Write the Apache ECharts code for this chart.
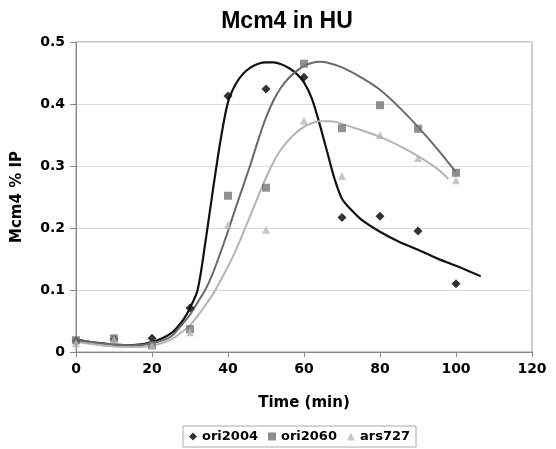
<!DOCTYPE html>
<html>
<head>
<meta charset="utf-8">
<script src="https://cdn.jsdelivr.net/npm/echarts@6/dist/echarts.min.js"></script>
<style>html,body{margin:0;padding:0;background:#fff;}#c{width:556px;height:449px;}</style>
</head>
<body>
<div id="c"></div>
<script>
// Measured points [time, Mcm4 % IP]
const ori2004Points = [[0,0.018],[10,0.021],[20,0.022],[30,0.071],[40,0.413],[50,0.424],[60,0.443],[70,0.217],[80,0.219],[90,0.195],[100,0.11]];
const ori2060Points = [[0,0.019],[10,0.022],[20,0.011],[30,0.037],[40,0.252],[50,0.265],[60,0.465],[70,0.361],[80,0.398],[90,0.360],[100,0.289]];
const ars727Points  = [[0,0.014],[10,0.02],[20,0.01],[30,0.032],[40,0.205],[50,0.197],[60,0.373],[70,0.284],[80,0.35],[90,0.313],[100,0.277]];

// Smoothed trend curves
const ori2004Curve = [[0,0.02],[5,0.015],[10,0.012],[15,0.011],[20,0.016],[25,0.03],[28,0.05],[30,0.071],[32,0.1],[34,0.175],[36,0.26],[38,0.34],[40,0.403],[42,0.432],[44,0.449],[46,0.459],[48,0.465],[50,0.467],[52,0.467],[54,0.464],[56,0.458],[58,0.449],[60,0.435],[62,0.41],[64,0.37],[66,0.325],[68,0.28],[70,0.247],[72,0.232],[75,0.214],[80,0.194],[85,0.178],[90,0.165],[95,0.151],[100,0.139],[106.5,0.122]];
const ori2060Curve = [[0,0.02],[5,0.015],[10,0.012],[15,0.011],[20,0.014],[25,0.025],[28,0.045],[30,0.06],[32,0.08],[34,0.1],[36,0.127],[38,0.16],[40,0.195],[42,0.232],[44,0.268],[46,0.304],[48,0.343],[50,0.378],[52,0.406],[54,0.427],[56,0.442],[58,0.453],[60,0.461],[62,0.466],[64,0.468],[66,0.467],[70,0.459],[75,0.443],[80,0.423],[85,0.395],[90,0.363],[95,0.328],[100,0.29]];
const ars727Curve  = [[0,0.016],[5,0.012],[10,0.009],[15,0.008],[20,0.01],[25,0.02],[28,0.033],[30,0.043],[32,0.058],[34,0.075],[36,0.093],[38,0.115],[40,0.138],[42,0.163],[44,0.192],[46,0.222],[48,0.252],[50,0.281],[52,0.307],[54,0.327],[56,0.342],[58,0.354],[60,0.363],[62,0.369],[64,0.372],[67,0.372],[70,0.368],[75,0.358],[80,0.347],[85,0.333],[90,0.316],[95,0.296],[98,0.279]];

const xTicks = [0,20,40,60,80,100,120];
const yTicks = [0,0.1,0.2,0.3,0.4,0.5];

const chart = echarts.init(document.getElementById('c'), null, {renderer:'canvas'});
const lbl = {fontFamily:'DejaVu Sans', fontWeight:'bold', fontSize:13, color:'#000'};
const curve = (data, color, w) => ({type:'line', data, smooth:0.3, showSymbol:false, symbol:'none', silent:true,
  lineStyle:{color, width:w}, z:2});
const pts = (name, data, symbol, color, size) => ({type:'scatter', name, data, symbol, symbolSize:size,
  itemStyle:{color}, z:3});
chart.setOption({
  animation:false,
  backgroundColor:'#fff',
  title:{text:'Mcm4 in HU', left:282, top:5, textAlign:'center',
    textStyle:{fontFamily:'Liberation Sans', fontWeight:'bold', fontSize:23, color:'#000'}},
  grid:{left:76, right:24, top:42, bottom:97, show:true, borderColor:'#999', borderWidth:1},
  xAxis:{type:'value', min:xTicks[0], max:xTicks[xTicks.length-1], interval:20,
    name:'Time (min)', nameLocation:'middle', nameGap:44, nameTextStyle:Object.assign({}, lbl, {fontSize:15}),
    axisLine:{lineStyle:{color:'#888'}}, axisTick:{show:true, length:5, lineStyle:{color:'#888'}},
    axisLabel:Object.assign({}, lbl, {margin:10, fontSize:14}), splitLine:{show:false}},
  yAxis:{type:'value', min:yTicks[0], max:yTicks[yTicks.length-1], interval:0.1,
    name:'Mcm4 % IP', nameLocation:'middle', nameGap:51, nameTextStyle:Object.assign({}, lbl, {fontSize:15}),
    axisLine:{show:true, lineStyle:{color:'#888'}}, axisTick:{show:true, length:6, lineStyle:{color:'#888'}},
    axisLabel:Object.assign({}, lbl, {margin:11, fontSize:14}), splitLine:{lineStyle:{color:'#dcdcdc'}}},
  legend:{data:['ori2004','ori2060','ars727'], bottom:2, left:183, orient:'horizontal',
    itemWidth:8, itemHeight:8, itemGap:10, textStyle:Object.assign({}, lbl, {fontSize:13}),
    borderColor:'#aaa', borderWidth:1, padding:[4,6]},
  series:[
    curve(ori2004Curve, '#111', 2.2),
    curve(ori2060Curve, '#6a6a6a', 2),
    curve(ars727Curve, '#b4b4b4', 2),
    pts('ori2004', ori2004Points, 'diamond', '#000', 9),
    pts('ori2060', ori2060Points, 'rect', '#747474', 8),
    pts('ars727', ars727Points, 'triangle', '#b8b8b8', 8)
  ]
});
</script>
</body>
</html>
